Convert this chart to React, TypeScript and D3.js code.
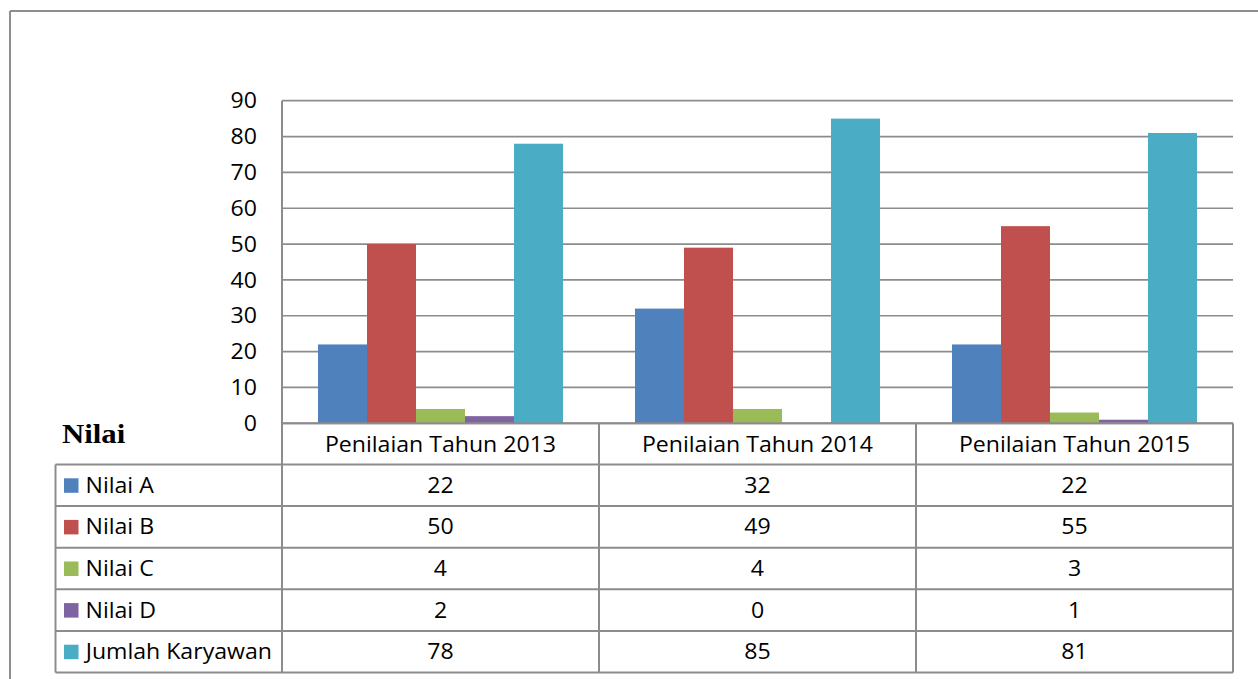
import React from "react";
import * as d3 from "d3";

const categories = ["Penilaian Tahun 2013", "Penilaian Tahun 2014", "Penilaian Tahun 2015"];
const seriesNames = ["Nilai A", "Nilai B", "Nilai C", "Nilai D", "Jumlah Karyawan"];
const nilaiA = [22, 32, 22];
const nilaiB = [50, 49, 55];
const nilaiC = [4, 4, 3];
const nilaiD = [2, 0, 1];
const jumlahKaryawan = [78, 85, 81];
const seriesValues = [nilaiA, nilaiB, nilaiC, nilaiD, jumlahKaryawan];
const seriesColors = ["#4F81BD", "#C0504D", "#9BBB59", "#8064A2", "#4BACC6"];
const yTicks = [0, 10, 20, 30, 40, 50, 60, 70, 80, 90];
const tableTitle = "Nilai";

const W = 1258;
const H = 679;
const plotLeft = 282;
const plotRight = 1233;
const plotTop = 100.7;
const plotBottom = 423.3;
const headerBottom = 464.5;
const rowH = 41.6;
const tableLeft = 55.5;
const lineColor = "#8c8c8c";
const FONT = "'Open Sans', 'Liberation Sans', sans-serif";
const FS = 21;
const SX = 1.1;

type TProps = {
  x: number;
  y: number;
  anchor: "start" | "middle" | "end";
  children: React.ReactNode;
  size?: number;
  family?: string;
  weight?: string | number;
};

function T({ x, y, anchor, children, size = FS, family = FONT, weight = 400 }: TProps) {
  const origin = anchor === "start" ? "left center" : anchor === "end" ? "right center" : "center center";
  return (
    <text
      x={x}
      y={y}
      textAnchor={anchor}
      fontFamily={family}
      fontSize={size}
      fontWeight={weight}
      fill="#000"
      style={{ transform: `scaleX(${SX})`, transformBox: "fill-box", transformOrigin: origin }}
    >
      {children}
    </text>
  );
}

export default function App() {
  const x0 = d3.scaleBand<string>().domain(categories).range([plotLeft, plotRight]).padding(0);
  const x1 = d3
    .scaleBand<string>()
    .domain(seriesNames)
    .range([0, x0.bandwidth()])
    .paddingInner(0)
    .paddingOuter(0.735);
  const y = d3.scaleLinear().domain([0, 90]).range([plotBottom, plotTop]);

  const rowTops = seriesNames.map((_, i) => headerBottom + i * rowH);
  const tableBottom = headerBottom + seriesNames.length * rowH;
  const colEdges = [plotLeft, ...categories.map((c) => (x0(c) as number) + x0.bandwidth())];

  return (
    <svg
      width={W}
      height={H}
      viewBox={`0 0 ${W} ${H}`}
      style={{ position: "absolute", left: 0, top: 0, background: "#fff" }}
    >
      <rect x={0} y={0} width={W} height={H} fill="#fff" />
      {/* outer frame */}
      <line x1={10} y1={11} x2={W} y2={11} stroke="#8f8f8f" strokeWidth={2} />
      <line x1={10} y1={11} x2={10} y2={H} stroke="#8f8f8f" strokeWidth={2} />

      {/* gridlines */}
      {yTicks.map((t) => (
        <line key={"g" + t} x1={plotLeft} x2={plotRight} y1={y(t)} y2={y(t)} stroke={lineColor} strokeWidth={1.7} />
      ))}
      {/* y labels */}
      {yTicks.map((t) => (
        <T key={"l" + t} x={257} y={y(t) + 7.6} anchor="end">
          {t}
        </T>
      ))}

      {/* bars */}
      {categories.map((c, ci) => (
        <g key={c} transform={`translate(${x0(c)},0)`}>
          {seriesNames.map((s, si) => {
            const v = seriesValues[si][ci];
            return (
              <rect
                key={s}
                x={x1(s) as number}
                y={y(v)}
                width={x1.bandwidth()}
                height={y(0) - y(v)}
                fill={seriesColors[si]}
              />
            );
          })}
        </g>
      ))}

      {/* axis / table lines */}
      <line x1={plotLeft} x2={plotLeft} y1={plotTop} y2={tableBottom} stroke={lineColor} strokeWidth={2} />
      <line x1={plotLeft} x2={plotRight} y1={plotBottom} y2={plotBottom} stroke={lineColor} strokeWidth={2} />
      {colEdges.slice(1).map((xe, i) => (
        <line key={"c" + i} x1={xe} x2={xe} y1={plotBottom} y2={tableBottom} stroke={lineColor} strokeWidth={2} />
      ))}
      <line x1={tableLeft} x2={tableLeft} y1={headerBottom} y2={tableBottom} stroke={lineColor} strokeWidth={2} />
      {[...rowTops, tableBottom].map((ry, i) => (
        <line key={"r" + i} x1={tableLeft} x2={plotRight} y1={ry} y2={ry} stroke={lineColor} strokeWidth={2} />
      ))}

      {/* header */}
      <T x={62} y={443.5} anchor="start" size={28} family="'Liberation Serif', 'Times New Roman', serif" weight={700}>
        {tableTitle}
      </T>
      {categories.map((c) => (
        <T key={"h" + c} x={(x0(c) as number) + x0.bandwidth() / 2} y={(plotBottom + headerBottom) / 2 + 7.8} anchor="middle">
          {c}
        </T>
      ))}

      {/* rows */}
      {seriesNames.map((s, si) => {
        const cy = rowTops[si] + rowH / 2;
        return (
          <g key={"row" + s}>
            <rect x={64} y={cy - 7} width={14.5} height={14.5} fill={seriesColors[si]} />
            <T x={85.5} y={cy + 7.6} anchor="start">
              {s}
            </T>
            {categories.map((c, ci) => (
              <T key={c} x={(x0(c) as number) + x0.bandwidth() / 2} y={cy + 7.6} anchor="middle">
                {seriesValues[si][ci]}
              </T>
            ))}
          </g>
        );
      })}
    </svg>
  );
}
